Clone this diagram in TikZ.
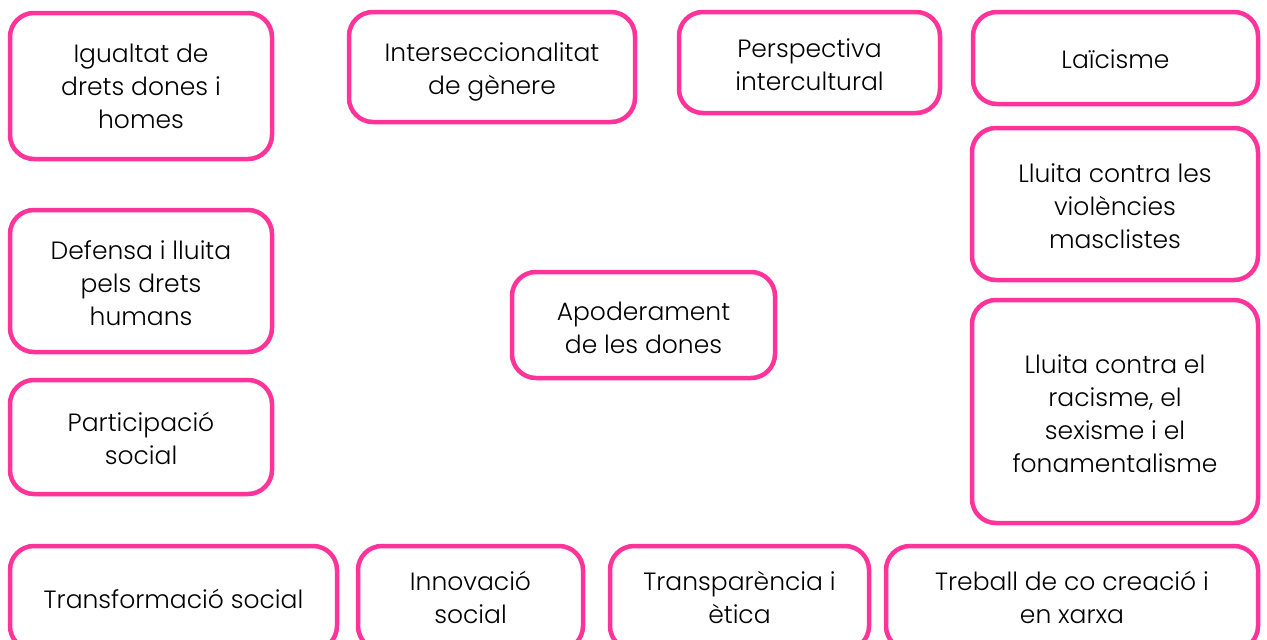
\documentclass[tikz,border=0pt]{standalone}
\usepackage{fontspec}
\setmainfont{Poppins}[UprightFont=* Light]
\definecolor{boxpink}{HTML}{FF3399}
\begin{document}
\begin{tikzpicture}[x=1pt,y=-1pt,
  card/.style={draw=boxpink, line width=4.5pt, rounded corners=24pt, fill=white, inner sep=0pt},
  lbl/.style={inner sep=0pt, align=center, font=\fontsize{25}{33}\selectfont, text=black}]
\useasboundingbox (0,0) rectangle (1267,640);
\node[card, minimum width=262pt, minimum height=146pt,
  label={[lbl]center:{Igualtat de\\drets dones i\\homes}}] (igualtat) at (141,86) {};
\node[card, minimum width=286pt, minimum height=110pt,
  label={[lbl, yshift=-5pt]center:{Interseccionalitat\\de gènere}}] (inter) at (492,67) {};
\node[card, minimum width=261pt, minimum height=101pt,
  label={[lbl, yshift=-2pt]center:{Perspectiva\\intercultural}}] (persp) at (809.5,62.5) {};
\node[card, minimum width=285pt, minimum height=92pt,
  label={[lbl, yshift=-1pt]center:{Laïcisme}}] (laic) at (1115.5,58) {};
\node[card, minimum width=286pt, minimum height=152pt,
  label={[lbl, yshift=-2pt]center:{Lluita contra les\\violències\\masclistes}}] (violen) at (1115,204) {};
\node[card, minimum width=286pt, minimum height=223pt,
  label={[lbl, yshift=-2pt]center:{Lluita contra el\\racisme, el\\sexisme i el\\fonamentalisme}}] (racis) at (1115,411.5) {};
\node[card, minimum width=262pt, minimum height=142pt,
  label={[lbl, yshift=-2pt]center:{Defensa i lluita\\pels drets\\humans}}] (defensa) at (141,281) {};
\node[card, minimum width=262pt, minimum height=114pt,
  label={[lbl, yshift=-1pt]center:{Participació\\social}}] (partic) at (141,437) {};
\node[card, minimum width=263pt, minimum height=106pt,
  label={[lbl, yshift=-3pt]center:{Apoderament\\de les dones}}] (apod) at (643.5,325) {};
\node[card, minimum width=327pt, minimum height=104pt,
  label={[lbl, yshift=-1pt]center:{Transformació social}}] (transf) at (173.5,598) {};
\node[card, minimum width=225pt, minimum height=104pt,
  label={[lbl, yshift=1pt]center:{Innovació\\social}}] (innov) at (470.5,598) {};
\node[card, minimum width=259pt, minimum height=104pt,
  label={[lbl, yshift=1pt]center:{Transparència i\\ètica}}] (transp) at (739.5,598) {};
\node[card, minimum width=372pt, minimum height=104pt,
  label={[lbl, yshift=1pt]center:{Treball de co creació i\\en xarxa}}] (treball) at (1072,598) {};
\end{tikzpicture}
\end{document}
